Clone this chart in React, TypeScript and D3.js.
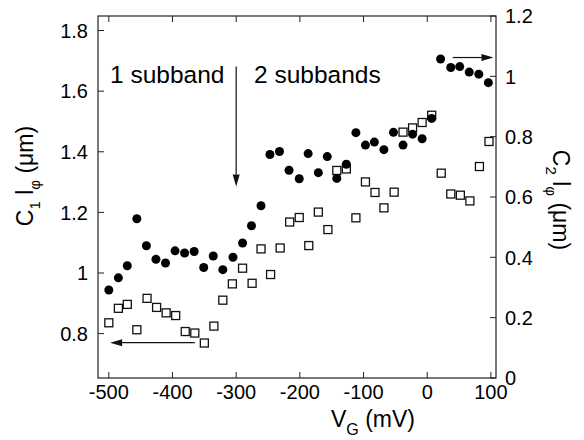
import React from 'react'
import { scaleLinear } from 'd3'

// gate voltage (mV) for the filled circles, C1 l_phi (um) on the left axis
const vgCircles = [-500, -485, -471, -456, -441, -426, -411, -396, -381, -366, -351, -336, -321, -305, -290, -276, -261, -247, -232, -217, -201, -187, -171, -157, -142, -127, -112, -97, -83, -68, -53, -38, -23, -8, 7, 21, 37, 51, 66, 81, 96]
const c1Values = [0.944, 0.984, 1.024, 1.179, 1.09, 1.045, 1.033, 1.073, 1.066, 1.071, 1.018, 1.056, 1.011, 1.052, 1.099, 1.156, 1.222, 1.391, 1.401, 1.339, 1.311, 1.394, 1.331, 1.384, 1.312, 1.359, 1.463, 1.422, 1.432, 1.407, 1.464, 1.422, 1.458, 1.443, 1.51, 1.706, 1.678, 1.681, 1.663, 1.656, 1.628]

// open squares, C2 l_phi (um) on the right axis
const vgSquares = [-500, -485, -471, -456, -440, -425, -410, -395, -380, -365, -350, -335, -321, -306, -290, -275, -261, -246, -231, -216, -201, -186, -171, -156, -142, -127, -112, -97, -82, -68, -52, -38, -23, -8, 7, 22, 37, 52, 67, 82, 97]
const c2Values = [0.183, 0.231, 0.244, 0.16, 0.264, 0.234, 0.216, 0.207, 0.154, 0.149, 0.116, 0.172, 0.258, 0.312, 0.364, 0.314, 0.428, 0.343, 0.431, 0.517, 0.532, 0.439, 0.55, 0.492, 0.688, 0.693, 0.531, 0.65, 0.615, 0.564, 0.616, 0.815, 0.829, 0.847, 0.871, 0.679, 0.61, 0.606, 0.587, 0.701, 0.784]

const xTicks = [-500, -400, -300, -200, -100, 0, 100]
const leftTicks = [0.8, 1, 1.2, 1.4, 1.6, 1.8]
const rightTicks = [0, 0.2, 0.4, 0.6, 0.8, 1, 1.2]

// annotation arrows in data units (vg, c1) -> (vg, c1)
const arrows = [
  { from: [-300, 1.681], to: [-300, 1.285] },
  { from: [-365, 0.77], to: [-498, 0.77] },
  { from: [40, 1.711], to: [104, 1.711] },
]

const W = 584
const H = 440
const frame = { left: 98, right: 496, top: 16, bottom: 378 }
const font = "'Liberation Sans', Arial, Helvetica, sans-serif"

const fmt = (v: number) => (v === 0 || v === 1 ? String(v) : v.toFixed(1))

export default function App() {
  const x = scaleLinear().domain([-517, 108]).range([frame.left, frame.right])
  const yL = scaleLinear().domain([0.6535, 1.848]).range([frame.bottom, frame.top])
  const yR = scaleLinear().domain([0, 1.2]).range([frame.bottom, frame.top])
  const tick = 6

  return (
    <svg width={W} height={H} style={{ position: 'absolute', left: 0, top: 0, background: '#fff' }} fontFamily={font}>
      <rect x={frame.left} y={frame.top} width={frame.right - frame.left} height={frame.bottom - frame.top}
        fill="none" stroke="#222" strokeWidth={1.2} />

      {xTicks.map(t => (
        <g key={'x' + t}>
          <line x1={x(t)} x2={x(t)} y1={frame.bottom} y2={frame.bottom - tick} stroke="#222" />
          <line x1={x(t)} x2={x(t)} y1={frame.top} y2={frame.top + tick} stroke="#222" />
          <text x={x(t)} y={399} textAnchor="middle" fontSize={20}>{t}</text>
        </g>
      ))}
      {leftTicks.map(t => (
        <g key={'l' + t}>
          <line x1={frame.left} x2={frame.left + tick} y1={yL(t)} y2={yL(t)} stroke="#222" />
          <text x={88} y={yL(t)} dy="0.36em" textAnchor="end" fontSize={20}>{fmt(t)}</text>
        </g>
      ))}
      {rightTicks.map(t => (
        <g key={'r' + t}>
          <line x1={frame.right} x2={frame.right - tick} y1={yR(t)} y2={yR(t)} stroke="#222" />
          <text x={505} y={yR(t)} dy="0.36em" textAnchor="start" fontSize={20}>{fmt(t)}</text>
        </g>
      ))}

      {vgSquares.map((v, i) => (
        <rect key={'s' + i} x={x(v) - 4} y={yR(c2Values[i]) - 4} width={8} height={8}
          fill="#fff" stroke="#111" strokeWidth={1.3} />
      ))}
      {vgCircles.map((v, i) => (
        <circle key={'c' + i} cx={x(v)} cy={yL(c1Values[i])} r={4.5} fill="#000" />
      ))}

      {arrows.map((a, i) => {
        const x1 = x(a.from[0]), y1 = yL(a.from[1])
        const x2 = x(a.to[0]), y2 = yL(a.to[1])
        const ang = Math.atan2(y2 - y1, x2 - x1)
        const len = 12, half = 3.5
        const bx = x2 - len * Math.cos(ang), by = y2 - len * Math.sin(ang)
        const px = -Math.sin(ang) * half, py = Math.cos(ang) * half
        return (
          <g key={'a' + i}>
            <line x1={x1} y1={y1} x2={bx} y2={by} stroke="#111" strokeWidth={1.2} />
            <path d={`M${x2},${y2}L${bx + px},${by + py}L${bx - px},${by - py}Z`} fill="#111" />
          </g>
        )
      })}

      <text x={110} y={83} fontSize={24.5}>1 subband</text>
      <text x={254} y={83} fontSize={24.5}>2 subbands</text>

      <text x={373} y={427} textAnchor="middle" fontSize={23}>
        <tspan>V</tspan>
        <tspan dy={8} fontSize={16}>G</tspan>
        <tspan dy={-8}> (mV)</tspan>
      </text>

      <text transform={`translate(33,176) rotate(-90)`} textAnchor="middle" fontSize={23}>
        <tspan>C</tspan>
        <tspan dy={7} fontSize={15}>1</tspan>
        <tspan dy={-7}> l</tspan>
        <tspan dy={7} fontSize={15}>φ</tspan>
        <tspan dy={-7}> (μm)</tspan>
      </text>

      <text transform={`translate(553,200) rotate(90)`} textAnchor="middle" fontSize={23}>
        <tspan>C</tspan>
        <tspan dy={7} fontSize={15}>2</tspan>
        <tspan dy={-7}> l</tspan>
        <tspan dy={7} fontSize={15}>φ</tspan>
        <tspan dy={-7}> (μm)</tspan>
      </text>
    </svg>
  )
}
